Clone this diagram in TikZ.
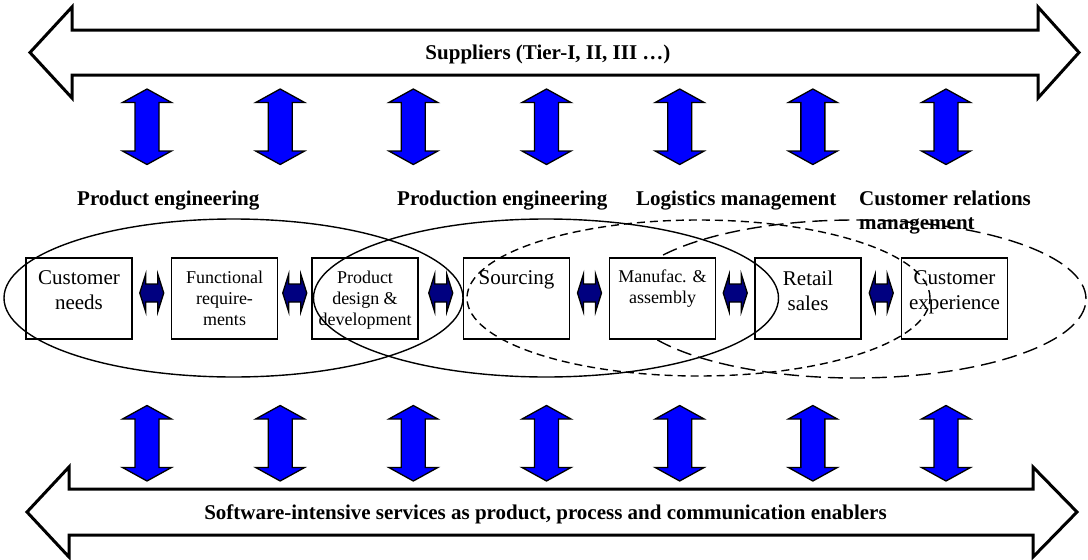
\documentclass[tikz,border=0pt]{standalone}
\usepackage{fontspec}
\setmainfont{Liberation Serif}
\usetikzlibrary{calc}
\definecolor{navyfill}{RGB}{0,0,128}
\definecolor{linkblue}{RGB}{0,0,255}

\tikzset{
  bandarrow/.style={draw=black, line width=3pt, fill=white, line join=miter},
  linkarrow/.style={draw=black, line width=1.3pt, fill=linkblue, line join=miter},
  flowarrow/.style={draw=black, line width=1.3pt, fill=navyfill, line join=miter},
  stepbox/.style={draw=black, line width=1.3pt, fill=white,
    minimum width=106pt, minimum height=81pt, inner sep=0pt},
  bigtext/.style={font=\fontsize{21}{25}\selectfont, inner sep=0pt, align=center, anchor=north},
  smalltext/.style={font=\fontsize{18}{21}\selectfont, inner sep=0pt, align=center, anchor=north},
  grouplabel/.style={font=\bfseries\fontsize{21}{24}\selectfont, inner sep=0pt, anchor=base west},
  bandlabel/.style={font=\bfseries\fontsize{21}{25}\selectfont, inner sep=0pt, anchor=base},
  scopering/.style={line width=1.4pt},
  logring/.style={line width=1.4pt, dash pattern=on 8pt off 5pt},
  crmring/.style={line width=1.4pt, dash pattern=on 15pt off 7pt},
}

\begin{document}
\begin{tikzpicture}[x=1pt, y=-1pt]
\useasboundingbox (0,0) rectangle (1088,560);

% supplier band (top) and software band (bottom)
\draw[bandarrow] (30,52.5) -- (72,7) -- (72,30) -- (1038,30) -- (1038,7)
  -- (1079,52.5) -- (1038,98) -- (1038,75) -- (72,75) -- (72,98) -- cycle;
\node[bandlabel] (suppliers) at (548,59.5) {Suppliers (Tier-I, II, III …)};

\draw[bandarrow] (27,512) -- (69,467) -- (69,489) -- (1033,489) -- (1033,467)
  -- (1077,512) -- (1033,557) -- (1033,535) -- (69,535) -- (69,557) -- cycle;
\node[bandlabel] (software) at (545.5,519)
  {Software-intensive services as product, process and communication enablers};

% vertical links between the bands and the value chain
\foreach \i in {0,...,6} {
  \pgfmathsetmacro{\cx}{147+133.17*\i}
  \draw[linkarrow] (\cx,89) -- ++(24.5,13.5) -- ++(-12.5,0) -- ++(0,48.5)
    -- ++(12.5,0) -- ++(-24.5,13.5) -- ++(-24.5,-13.5) -- ++(12.5,0)
    -- ++(0,-48.5) -- ++(-12.5,0) -- cycle;
  \draw[linkarrow] (\cx,405.5) -- ++(24.5,13.5) -- ++(-12.5,0) -- ++(0,48.5)
    -- ++(12.5,0) -- ++(-24.5,13.5) -- ++(-24.5,-13.5) -- ++(12.5,0)
    -- ++(0,-48.5) -- ++(-12.5,0) -- cycle;
}

% customer relations scope lies behind the boxes
\draw[crmring] (855,299) ellipse [x radius=231pt, y radius=79pt];

% value chain steps
\node[stepbox] (cn) at (79,298.5) {};
\node[stepbox] (fr) at (224.5,298.5) {};
\node[stepbox] (pd) at (365,298.5) {};
\node[stepbox] (so) at (516.5,298.5) {};
\node[stepbox] (ma) at (662.5,298.5) {};
\node[stepbox] (rs) at (808,298.5) {};
\node[stepbox] (ce) at (954.5,298.5) {};

\node[bigtext]   (cnt) at ($(cn.north)+(0,13)$) {Customer\\needs};
\node[smalltext] (frt) at ($(fr.north)+(0,13)$) {Functional\\require-\\ments};
\node[smalltext] (pdt) at ($(pd.north)+(0,13)$) {Product\\design \&\\development};
\node[bigtext]   (sot) at ($(so.north)+(0,13.5)$) {Sourcing};
\node[smalltext] (mat) at ($(ma.north)+(0,12)$) {Manufac. \&\\assembly};
\node[bigtext]   (rst) at ($(rs.north)+(0,13)$) {Retail\\sales};
\node[bigtext]   (cet) at ($(ce.north)+(0,13)$) {Customer\\experience};

% flow between neighbouring steps
\foreach \a/\b in {cn/fr, fr/pd, pd/so, so/ma, ma/rs, rs/ce} {
  \coordinate (mid) at ($(\a.east)!0.5!(\b.west)$);
  \draw[flowarrow] ($(mid)+(-12,-5.5)$) -- ++(6,-19) -- ++(0,10) -- ++(12,0)
    -- ++(0,-10) -- ++(6,19) -- ++(-6,19) -- ++(0,-10) -- ++(-12,0)
    -- ++(0,10) -- cycle;
}

% management scopes
\draw[scopering] (233.5,298) ellipse [x radius=229.5pt, y radius=79pt];
\draw[scopering] (546,298) ellipse [x radius=232.5pt, y radius=79pt];
\draw[logring] (698.5,298) ellipse [x radius=231.5pt, y radius=78pt];

\node[grouplabel] (lpe) at (77,205.5) {Product engineering};
\node[grouplabel] (lpr) at (397,205.5) {Production engineering};
\node[grouplabel] (llm) at (636,205.5) {Logistics management};
\node[font=\bfseries\fontsize{21}{24}\selectfont, inner sep=0pt, anchor=north west, align=left]
  (lcr) at (859,191) {Customer relations\\management};
\end{tikzpicture}
\end{document}
